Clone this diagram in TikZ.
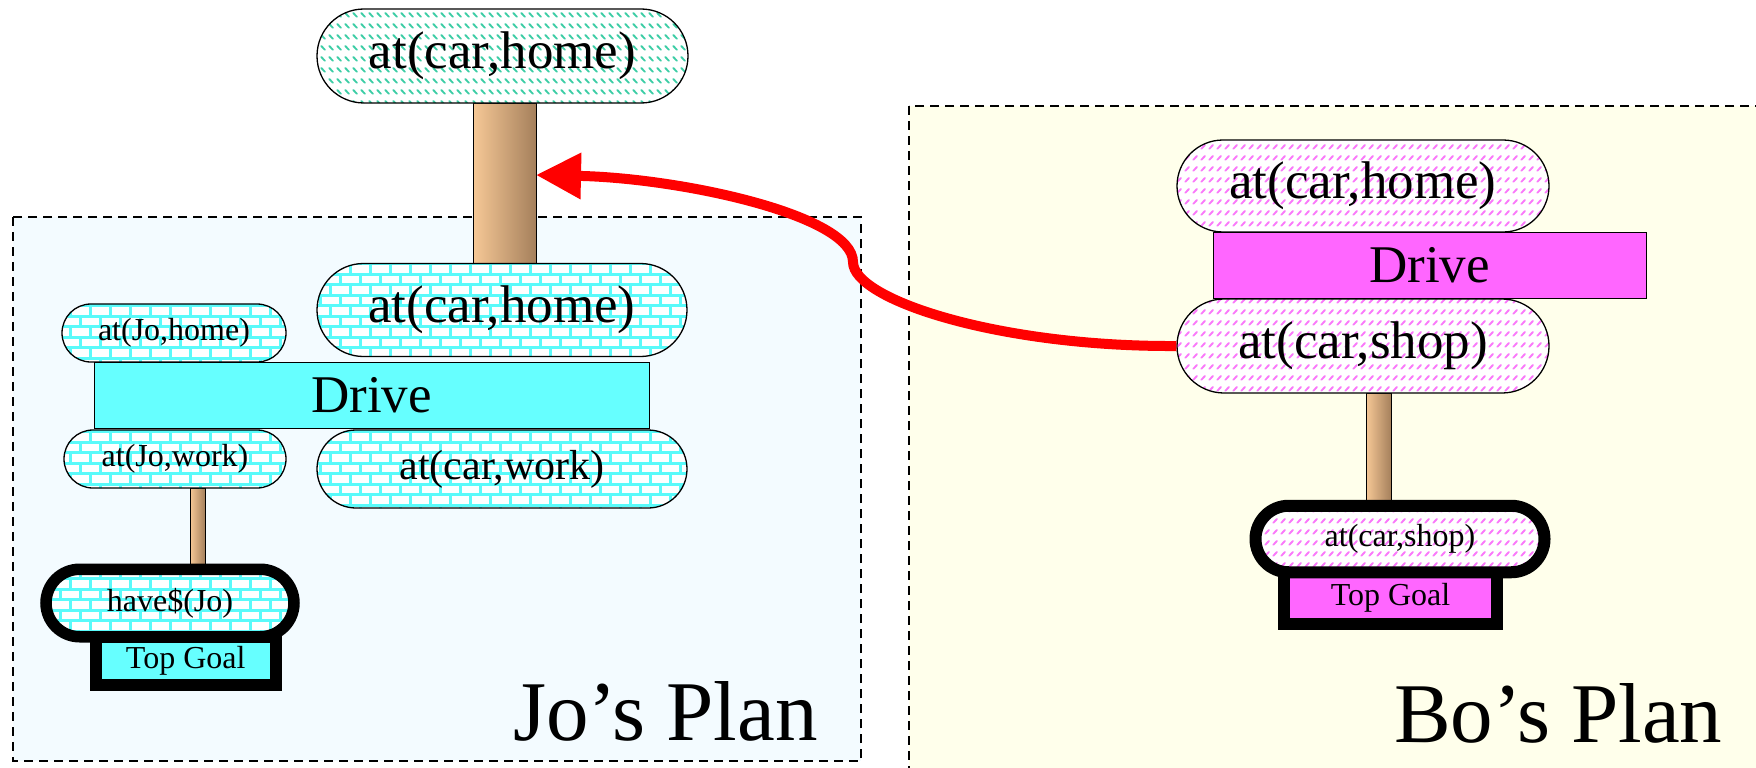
\documentclass[tikz,border=0pt]{standalone}
\usepackage{fontspec}
\setmainfont{Liberation Serif}
\usetikzlibrary{arrows.meta,patterns}

\pgfdeclarepatternformonly{mybricks}{\pgfqpoint{-1.5pt}{-1.5pt}}{\pgfqpoint{21.5pt}{22.5pt}}{\pgfqpoint{20pt}{21pt}}{%
  \pgfsetlinewidth{3pt}%
  \pgfpathmoveto{\pgfqpoint{-1pt}{0pt}}\pgfpathlineto{\pgfqpoint{21pt}{0pt}}%
  \pgfpathmoveto{\pgfqpoint{-1pt}{10.5pt}}\pgfpathlineto{\pgfqpoint{21pt}{10.5pt}}%
  \pgfpathmoveto{\pgfqpoint{-1pt}{21pt}}\pgfpathlineto{\pgfqpoint{21pt}{21pt}}%
  \pgfpathmoveto{\pgfqpoint{0pt}{0pt}}\pgfpathlineto{\pgfqpoint{0pt}{10.5pt}}%
  \pgfpathmoveto{\pgfqpoint{20pt}{0pt}}\pgfpathlineto{\pgfqpoint{20pt}{10.5pt}}%
  \pgfpathmoveto{\pgfqpoint{10pt}{10.5pt}}\pgfpathlineto{\pgfqpoint{10pt}{21pt}}%
  \pgfusepath{stroke}}

\pgfdeclarepatternformonly{mydiagA}{\pgfqpoint{0pt}{0pt}}{\pgfqpoint{8pt}{11pt}}{\pgfqpoint{8pt}{11pt}}{%
  \pgfsetlinewidth{2pt}\pgfsetroundcap%
  \pgfpathmoveto{\pgfqpoint{1.5pt}{7.5pt}}\pgfpathlineto{\pgfqpoint{5.5pt}{3.5pt}}%
  \pgfusepath{stroke}}

\pgfdeclarepatternformonly{mydiagB}{\pgfqpoint{0pt}{0pt}}{\pgfqpoint{8pt}{11pt}}{\pgfqpoint{8pt}{11pt}}{%
  \pgfsetlinewidth{2pt}\pgfsetroundcap%
  \pgfpathmoveto{\pgfqpoint{1.5pt}{3.5pt}}\pgfpathlineto{\pgfqpoint{5.5pt}{7.5pt}}%
  \pgfusepath{stroke}}

\definecolor{brickcyan}{RGB}{90,250,250}
\definecolor{tealdash}{RGB}{60,205,165}
\definecolor{pinkdash}{RGB}{250,120,250}
\definecolor{drivecyan}{RGB}{102,255,255}
\definecolor{drivemag}{RGB}{255,102,255}
\definecolor{jobg}{RGB}{243,251,255}
\definecolor{bobg}{RGB}{255,255,235}
\definecolor{trunkL}{RGB}{246,200,150}
\definecolor{trunkR}{RGB}{165,128,92}

\newcommand\szbig{\fontsize{53}{60}\selectfont}
\newcommand\szmid{\fontsize{42}{48}\selectfont}
\newcommand\szsml{\fontsize{32}{38}\selectfont}
\newcommand\szplan{\fontsize{85}{95}\selectfont}

\begin{document}
\begin{tikzpicture}[x=1pt,y=-1pt,
  planbox/.style={draw=black, line width=1.8pt, dash pattern=on 9pt off 6pt},
  pill/.style={draw=black, line width=1.3pt, inner sep=0pt, preaction={fill=white}},
  brickpill/.style={pill, pattern=mybricks, pattern color=brickcyan},
  tealpill/.style={pill, pattern=mydiagA, pattern color=tealdash},
  pinkpill/.style={pill, pattern=mydiagB, pattern color=pinkdash},
  drivebox/.style={draw=black, line width=1pt, inner sep=0pt, font=\szbig},
  goalbox/.style={draw=black, line width=12pt, inner sep=0pt, font=\szsml},
  trunk/.style={draw=black, line width=1pt, inner sep=0pt, left color=trunkL, right color=trunkR},
  redarrow/.style={draw=red, line width=10pt, -{Triangle[length=45pt,width=44pt]}},
  planlabel/.style={anchor=base west, inner sep=0pt, font=\szplan}]
\useasboundingbox (0,0) rectangle (1756,768);
\clip (0,0) rectangle (1756,768);

% plan areas
\draw[planbox, fill=jobg] (13,217) rectangle (861,761);
\draw[planbox, fill=bobg] (909,106) rectangle (1790,800);

% trunks
\node[trunk, minimum width=63pt, minimum height=160pt] (trunkA) at (504.5,183) {};
\node[trunk, minimum width=15pt, minimum height=82pt] (trunkJ) at (197.5,529) {};
\node[trunk, minimum width=25pt, minimum height=113pt] (trunkB) at (1378.5,449.5) {};

% top and Jo's plan
\node[tealpill, minimum width=371pt, minimum height=94pt, rounded corners=47pt, font=\szbig] (topA) at (502.5,56) {at(car,home)};
\node[brickpill, minimum width=370pt, minimum height=93pt, rounded corners=46.5pt, font=\szbig] (midA) at (502,310) {at(car,home)};
\node[brickpill, minimum width=224pt, minimum height=58pt, rounded corners=29pt, font=\szsml] (johome) at (174,333) {at(Jo,home)};
\node[brickpill, minimum width=222pt, minimum height=58pt, rounded corners=29pt, font=\szsml] (jowork) at (175,459) {at(Jo,work)};
\node[brickpill, minimum width=370pt, minimum height=78pt, rounded corners=39pt, font=\szmid] (carwork) at (502,469) {\raisebox{-3pt}{at(car,work)}};
\node[drivebox, fill=drivecyan, minimum width=555pt, minimum height=66pt] (driveJ) at (371.5,395) {Drive};
\node[goalbox, fill=drivecyan, minimum width=180.5pt, minimum height=47.5pt] (goalJ) at (185.75,660.75) {Top Goal};
\node[brickpill, line width=11.5pt, minimum width=248pt, minimum height=67.5pt, rounded corners=33.75pt, font=\szsml] (have) at (170,603) {have\$(Jo)};

% Bo's plan
\node[pinkpill, minimum width=372pt, minimum height=92pt, rounded corners=46pt, font=\szbig] (bohome) at (1363,186) {at(car,home)};
\node[pinkpill, minimum width=372pt, minimum height=94pt, rounded corners=47pt, font=\szbig] (boshop) at (1363,346) {at(car,shop)};
\node[drivebox, fill=drivemag, minimum width=433pt, minimum height=66pt] (driveB) at (1429.5,265) {Drive};
\node[goalbox, fill=drivemag, minimum width=213pt, minimum height=52pt] (goalB) at (1390.5,598) {Top Goal};
\node[pinkpill, line width=12pt, minimum width=289pt, minimum height=66.5pt, rounded corners=33.25pt, font=\szsml] (bogoal) at (1400,539) {at(car,shop)};

% labels
\node[planlabel] (joplan) at (513,740) {Jo’s Plan};
\node[planlabel] (boplan) at (1394,742) {Bo’s Plan};

% red arrow
\coordinate (tipA) at (536,175);
\draw[redarrow] (boshop.west) .. controls (1000,347) and (853,300) .. (853,262) .. controls (853,215) and (680,178) .. (tipA);
\end{tikzpicture}
\end{document}
